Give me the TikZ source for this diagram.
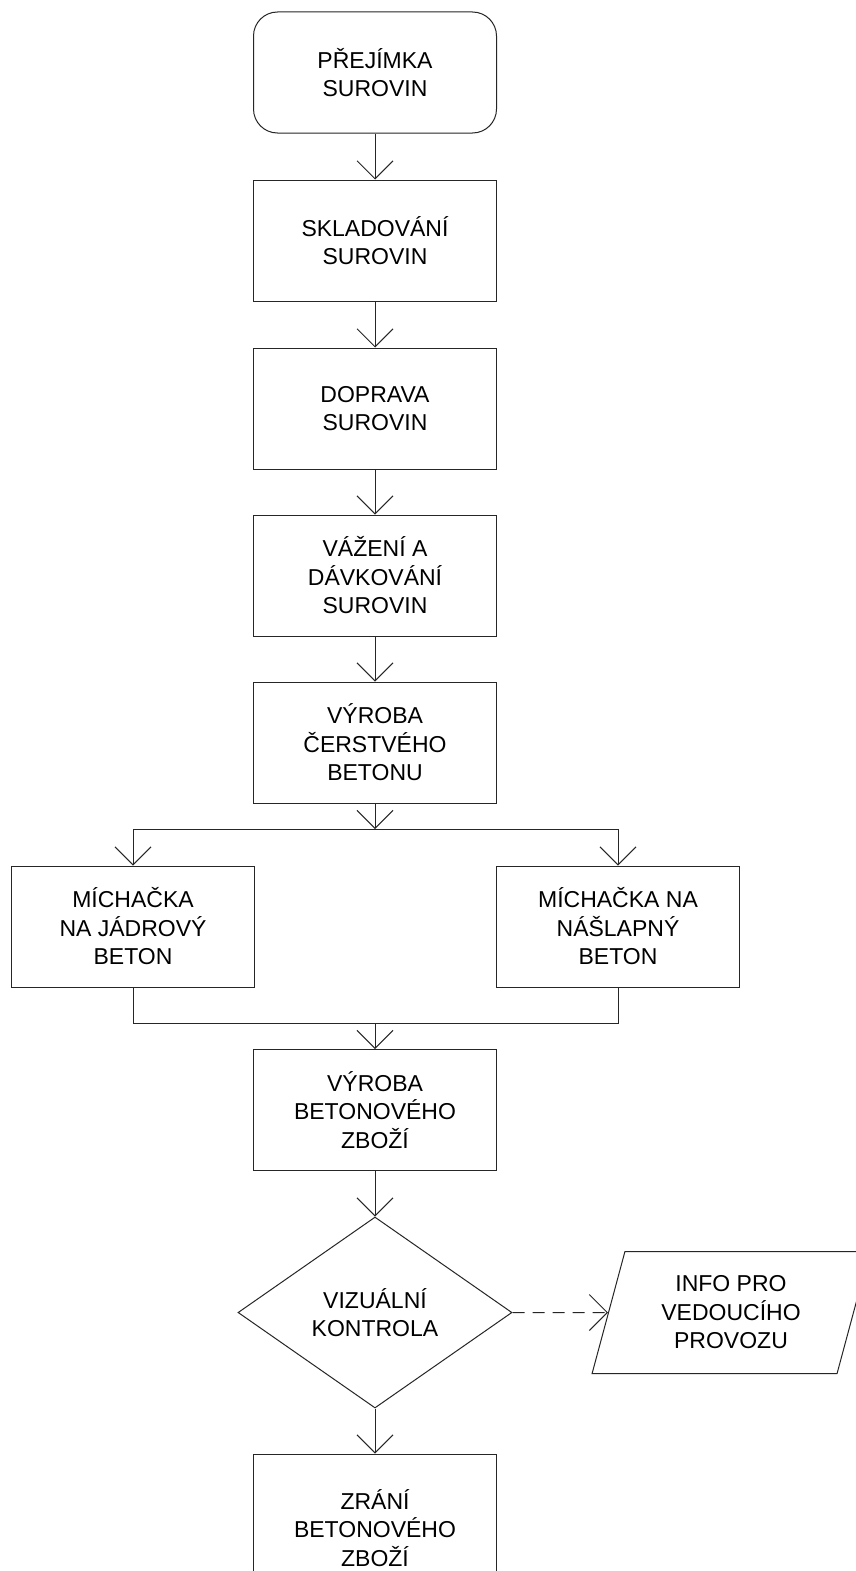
\documentclass[tikz,border=0pt]{standalone}
\usepackage{fontspec}
\setmainfont{Liberation Sans}
\usetikzlibrary{arrows.meta,shapes.geometric}
\begin{document}
\begin{tikzpicture}[x=1pt,y=-1pt,
  line width=1pt,
  every node/.style={font=\fontsize{23}{28.5}\selectfont, align=center, inner sep=0pt},
  procbox/.style={draw=black!85, rectangle, minimum width=243pt, minimum height=121pt},
  startbox/.style={procbox, rounded corners=24pt},
  decbox/.style={draw=black!85, diamond, minimum width=274pt, minimum height=191pt},
  iobox/.style={draw=black!85, trapezium, trapezium left angle=73.6, trapezium right angle=106.4, trapezium stretches=true, minimum width=278pt, minimum height=122pt},
  conn/.style={draw=black!85},
  arr/.style={conn, -{Straight Barb[length=18pt,width=36pt]}},
  dasharr/.style={arr, dash pattern=on 12pt off 8pt}
]
\useasboundingbox (0,0) rectangle (856,1571);
\clip (0,0) rectangle (856,1571);
\fill[white] (0,0) rectangle (856,1571);

\node[startbox] (b1) at (375,72.5) {PŘEJÍMKA\\SUROVIN};
\node[procbox] (b2) at (375,240.5) {SKLADOVÁNÍ\\SUROVIN};
\node[procbox] (b3) at (375,408.5) {DOPRAVA\\SUROVIN};
\node[procbox] (b4) at (375,575.5) {VÁŽENÍ A\\DÁVKOVÁNÍ\\SUROVIN};
\node[procbox] (b5) at (375,742.5) {VÝROBA\\ČERSTVÉHO\\BETONU};
\node[procbox] (ml) at (133,926.5) {MÍCHAČKA\\NA JÁDROVÝ\\BETON};
\node[procbox] (mr) at (618,926.5) {MÍCHAČKA NA\\NÁŠLAPNÝ\\BETON};
\node[procbox] (b7) at (375,1110) {VÝROBA\\BETONOVÉHO\\ZBOŽÍ};
\node[decbox] (dia) at (375,1312.5) {VIZUÁLNÍ\\KONTROLA};
\node[iobox] (info) at (731,1312.5) {INFO PRO\\VEDOUCÍHO\\PROVOZU};
\node[procbox, minimum height=148pt] (b8) at (375,1528) {ZRÁNÍ\\BETONOVÉHO\\ZBOŽÍ};

\coordinate (split) at (375,829);
\coordinate (sl) at (133,829);
\coordinate (sr) at (618,829);
\coordinate (jn) at (375,1023);

\draw[arr] (b1) -- (b2);
\draw[arr] (b2) -- (b3);
\draw[arr] (b3) -- (b4);
\draw[arr] (b4) -- (b5);
\draw[arr] (b5) -- (split);
\draw[conn] (sl) -- (sr);
\draw[arr] (sl) -- (ml);
\draw[arr] (sr) -- (mr);
\draw[conn] (ml.south) |- (jn) -| (mr.south);
\draw[arr] (jn) -- (b7);
\draw[arr] (b7) -- (dia);
\draw[dasharr] (dia.east) -- (info.west);
\draw[arr] (dia) -- (b8);
\end{tikzpicture}
\end{document}
